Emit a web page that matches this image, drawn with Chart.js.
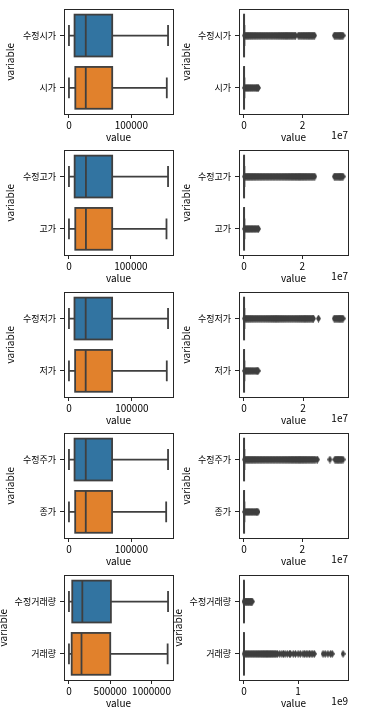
<!DOCTYPE html>
<html>
<head>
<meta charset="utf-8">
<script src="https://cdn.jsdelivr.net/npm/chart.js@4.4.1/dist/chart.umd.min.js"></script>
<style>
  html, body { margin: 0; padding: 0; background: #fff; }
  body { width: 376px; height: 715px; position: relative; overflow: hidden; }
  canvas { position: absolute; }
</style>
</head>
<body>
<script>
// ---- data ----
const categories = [
  ['수정시가', '시가'],
  ['수정고가', '고가'],
  ['수정저가', '저가'],
  ['수정주가', '종가'],
  ['수정거래량', '거래량']
];

// box stats per row: [adjusted, raw]
const whiskerLow   = [[0, 0], [0, 0], [0, 0], [0, 0], [0, 0]];
const q1Values     = [[9000, 10200], [9200, 10200], [8800, 9800], [9000, 10000], [40000, 33000]];
const medianValues = [[27000, 27000], [27400, 27400], [26600, 26600], [27000, 27000], [162000, 152000]];
const q3Values     = [[69400, 69400], [69800, 69800], [68600, 68600], [69200, 69200], [508000, 500000]];
const whiskerHigh  = [[159000, 157000], [160000, 157500], [157500, 155500], [159000, 156000], [1200000, 1195000]];

// outliers (fliers) - the dense runs are what the picture shows as solid bands
const outAdjOpen = [0.16e6, 0.5e6, 0.85e6, 1.2e6, 1.55e6, 1.9e6, 2.25e6, 2.6e6, 2.95e6, 3.3e6, 3.65e6, 4.0e6,
  4.35e6, 4.7e6, 5.05e6, 5.4e6, 5.75e6, 6.1e6, 6.45e6, 6.8e6, 7.15e6, 7.5e6, 7.85e6, 8.2e6, 8.55e6, 8.9e6,
  9.25e6, 9.6e6, 9.95e6, 10.3e6, 10.65e6, 11.0e6, 11.35e6, 11.7e6, 12.05e6, 12.4e6, 12.75e6, 13.1e6, 13.45e6,
  13.8e6, 14.15e6, 14.5e6, 14.85e6, 15.2e6, 15.55e6, 15.9e6, 16.25e6, 16.6e6, 16.95e6, 17.3e6, 17.6e6, 18.5e6,
  18.85e6, 19.2e6, 19.55e6, 19.9e6, 20.25e6, 20.6e6, 20.95e6, 21.3e6, 21.65e6, 22.0e6, 22.35e6, 22.7e6,
  23.05e6, 23.4e6, 23.75e6, 24.1e6, 30.8e6, 31.1e6, 31.4e6, 31.7e6, 32.0e6, 32.3e6, 32.6e6, 32.9e6, 33.2e6,
  33.5e6, 33.8e6];
const outOpen = [0.16e6, 0.5e6, 0.85e6, 1.2e6, 1.55e6, 1.9e6, 2.25e6, 2.6e6, 2.95e6, 3.3e6, 3.65e6, 4.0e6,
  4.3e6, 4.6e6, 4.95e6];
const outAdjHigh = [0.16e6, 0.5e6, 0.85e6, 1.2e6, 1.55e6, 1.9e6, 2.25e6, 2.6e6, 2.95e6, 3.3e6, 3.65e6, 4.0e6,
  4.35e6, 4.7e6, 5.05e6, 5.4e6, 5.75e6, 6.1e6, 6.45e6, 6.8e6, 7.15e6, 7.5e6, 7.85e6, 8.2e6, 8.55e6, 8.9e6,
  9.25e6, 9.6e6, 9.95e6, 10.3e6, 10.65e6, 11.0e6, 11.35e6, 11.7e6, 12.05e6, 12.4e6, 12.75e6, 13.1e6, 13.45e6,
  13.8e6, 14.15e6, 14.5e6, 14.85e6, 15.2e6, 15.55e6, 15.9e6, 16.25e6, 16.6e6, 16.95e6, 17.3e6, 17.65e6, 18.0e6,
  18.35e6, 18.7e6, 19.05e6, 19.4e6, 19.75e6, 20.1e6, 20.45e6, 20.8e6, 21.15e6, 21.5e6, 21.85e6, 22.2e6,
  22.55e6, 22.9e6, 23.25e6, 23.6e6, 23.95e6, 24.3e6, 31.0e6, 31.3e6, 31.6e6, 31.9e6, 32.2e6, 32.5e6, 32.8e6,
  33.1e6, 33.4e6, 33.7e6, 34.0e6];
const outHigh = [0.16e6, 0.5e6, 0.85e6, 1.2e6, 1.55e6, 1.9e6, 2.25e6, 2.6e6, 2.95e6, 3.3e6, 3.65e6, 4.0e6,
  4.35e6, 4.7e6, 5.0e6];
const outAdjLow = [0.16e6, 0.5e6, 0.85e6, 1.2e6, 1.55e6, 1.9e6, 2.25e6, 2.6e6, 2.95e6, 3.3e6, 3.65e6, 4.0e6,
  4.35e6, 4.7e6, 5.05e6, 5.4e6, 5.75e6, 6.1e6, 6.45e6, 6.8e6, 7.15e6, 7.5e6, 7.85e6, 8.2e6, 8.55e6, 8.9e6,
  9.25e6, 9.6e6, 9.95e6, 10.3e6, 10.65e6, 11.0e6, 11.35e6, 11.7e6, 12.05e6, 12.4e6, 12.75e6, 13.1e6, 13.45e6,
  13.8e6, 14.15e6, 14.5e6, 14.85e6, 15.2e6, 15.55e6, 15.9e6, 16.25e6, 16.6e6, 16.95e6, 17.3e6, 17.65e6, 18.0e6,
  18.35e6, 18.7e6, 19.05e6, 19.4e6, 19.75e6, 20.1e6, 20.45e6, 20.8e6, 21.15e6, 21.5e6, 21.85e6, 22.2e6,
  22.55e6, 22.9e6, 23.2e6, 23.5e6, 25.2e6, 30.5e6, 30.8e6, 31.1e6, 31.4e6, 31.7e6, 32.0e6, 32.3e6, 32.6e6,
  32.9e6, 33.2e6, 33.5e6];
const outLow = [0.16e6, 0.5e6, 0.85e6, 1.2e6, 1.55e6, 1.9e6, 2.25e6, 2.6e6, 2.95e6, 3.3e6, 3.65e6, 4.0e6,
  4.3e6, 4.55e6, 4.8e6];
const outAdjClose = [0.16e6, 0.5e6, 0.85e6, 1.2e6, 1.55e6, 1.9e6, 2.25e6, 2.6e6, 2.95e6, 3.3e6, 3.65e6, 4.0e6,
  4.35e6, 4.7e6, 5.05e6, 5.4e6, 5.75e6, 6.1e6, 6.45e6, 6.8e6, 7.15e6, 7.5e6, 7.85e6, 8.2e6, 8.55e6, 8.9e6,
  9.25e6, 9.6e6, 9.95e6, 10.3e6, 10.65e6, 11.0e6, 11.35e6, 11.7e6, 12.05e6, 12.4e6, 12.75e6, 13.1e6, 13.45e6,
  13.8e6, 14.15e6, 14.5e6, 14.85e6, 15.2e6, 15.55e6, 15.9e6, 16.25e6, 16.6e6, 16.95e6, 17.3e6, 17.65e6, 18.0e6,
  18.35e6, 18.7e6, 19.05e6, 19.4e6, 19.75e6, 20.1e6, 20.45e6, 20.8e6, 21.15e6, 21.5e6, 21.85e6, 22.2e6,
  22.55e6, 22.9e6, 23.25e6, 23.6e6, 23.95e6, 24.3e6, 24.7e6, 25.2e6, 29.5e6, 31.2e6, 31.5e6, 31.8e6, 32.1e6,
  32.4e6, 32.7e6, 33.0e6, 33.3e6, 33.6e6, 34.0e6];
const outClose = [0.16e6, 0.5e6, 0.85e6, 1.2e6, 1.55e6, 1.9e6, 2.25e6, 2.6e6, 2.95e6, 3.3e6, 3.65e6, 4.0e6,
  4.3e6, 4.55e6, 4.8e6];
const outAdjVolume = [1.3e6, 1.3e7, 2.5e7, 3.7e7, 4.9e7, 6.1e7, 7.3e7, 8.5e7, 9.7e7, 1.09e8, 1.21e8, 1.33e8,
  1.43e8, 1.52e8];
const outVolume = [1.3e6, 2.0e7, 3.8e7, 5.6e7, 7.4e7, 9.2e7, 1.1e8, 1.28e8, 1.46e8, 1.64e8, 1.82e8, 2.0e8,
  2.18e8, 2.36e8, 2.54e8, 2.72e8, 2.9e8, 3.08e8, 3.26e8, 3.44e8, 3.62e8, 3.8e8, 3.98e8, 4.16e8, 4.34e8, 4.52e8,
  4.7e8, 4.88e8, 5.06e8, 5.24e8, 5.42e8, 5.6e8, 5.78e8, 5.96e8, 6.2e8, 6.6e8, 7.0e8, 7.3e8, 7.6e8, 8.0e8,
  8.4e8, 8.6e8, 9.1e8, 9.5e8, 1.0e9, 1.04e9, 1.09e9, 1.12e9, 1.15e9, 1.18e9, 1.21e9, 1.24e9, 1.27e9, 1.3e9,
  1.46e9, 1.5e9, 1.55e9, 1.6e9, 1.63e9, 1.83e9];

const outliers = [
  [outAdjOpen, outOpen],
  [outAdjHigh, outHigh],
  [outAdjLow, outLow],
  [outAdjClose, outClose],
  [outAdjVolume, outVolume]
];

// tick labels
const leftTicks = [[0, 100000], [0, 100000], [0, 100000], [0, 100000], [0, 500000, 1000000]];
const rightTicks = [[0, 2e7], [0, 2e7], [0, 2e7], [0, 2e7], [0, 1e9]];
const rightTickUnit = [1e7, 1e7, 1e7, 1e7, 1e9];
const rightOffsetText = ['1e7', '1e7', '1e7', '1e7', '1e9'];

// ---- styling ----
const boxColors = ['#3274a1', '#e1812c'];
const lineGray = '#3f3f3f';
const textColor = '#000';
const fontFamily = "'Noto Sans CJK KR', 'Noto Sans', sans-serif";

Chart.defaults.font.family = fontFamily;
Chart.defaults.color = textColor;

// thin diamond marker like matplotlib 'd'
const diamond = document.createElement('canvas');
diamond.width = 5;
diamond.height = 8;
(function () {
  const c = diamond.getContext('2d');
  c.fillStyle = lineGray;
  c.beginPath();
  c.moveTo(2.5, 0);
  c.lineTo(5, 4);
  c.lineTo(2.5, 8);
  c.lineTo(0, 4);
  c.closePath();
  c.fill();
})();

// draws box outline, whiskers, caps and median through the chart scales
const boxPlugin = {
  id: 'boxStats',
  afterDatasetsDraw(chart, args, opts) {
    if (!opts.stats) return;
    const { ctx } = chart;
    const x = chart.scales.x, y = chart.scales.y;
    const band = y.getPixelForValue(1) - y.getPixelForValue(0);
    const half = band * 0.4;
    const capHalf = band * 0.2;
    ctx.save();
    ctx.strokeStyle = lineGray;
    ctx.lineWidth = 1.8;
    opts.stats.forEach((s, i) => {
      const yc = y.getPixelForValue(i);
      const xl = x.getPixelForValue(s.lo);
      const x1 = x.getPixelForValue(s.q1);
      const xm = x.getPixelForValue(s.med);
      const x3 = x.getPixelForValue(s.q3);
      const xh = x.getPixelForValue(s.hi);
      ctx.beginPath();
      ctx.moveTo(xl, yc); ctx.lineTo(x1, yc);
      ctx.moveTo(x3, yc); ctx.lineTo(xh, yc);
      ctx.moveTo(xl, yc - capHalf); ctx.lineTo(xl, yc + capHalf);
      ctx.moveTo(xh, yc - capHalf); ctx.lineTo(xh, yc + capHalf);
      ctx.moveTo(xm, yc - half); ctx.lineTo(xm, yc + half);
      ctx.stroke();
      ctx.strokeRect(x1, yc - half, x3 - x1, half * 2);
    });
    ctx.restore();
  }
};

// axes frame + scientific offset text
const framePlugin = {
  id: 'frame',
  afterDraw(chart, args, opts) {
    const { ctx, chartArea: a } = chart;
    ctx.save();
    ctx.strokeStyle = '#262626';
    ctx.lineWidth = 1;
    const l = Math.round(a.left) + 0.5, t = Math.round(a.top) + 0.5;
    ctx.strokeRect(l, t, Math.round(a.right) - Math.round(a.left), Math.round(a.bottom) - Math.round(a.top));
    if (opts.offsetText) {
      ctx.fillStyle = textColor;
      ctx.font = '10px ' + fontFamily;
      ctx.textAlign = 'right';
      ctx.textBaseline = 'middle';
      ctx.fillText(opts.offsetText, a.right, a.bottom + 21);
    }
    ctx.restore();
  }
};

Chart.register(boxPlugin, framePlugin);

const rowPitch = 141.4;

function makePanel(row, col) {
  const labels = categories[row];
  const stats = labels.map((_, i) => ({
    lo: whiskerLow[row][i], q1: q1Values[row][i], med: medianValues[row][i],
    q3: q3Values[row][i], hi: whiskerHigh[row][i]
  }));
  const fliers = col === 1 ? outliers[row] : [[], []];

  // matplotlib-style 5% margins around the drawn data
  const allVals = [];
  stats.forEach(s => allVals.push(s.lo, s.hi));
  fliers.forEach(f => allVals.push(...f));
  const lo = Math.min(...allVals), hi = Math.max(...allVals);
  const pad = (hi - lo) * 0.05;

  const ticks = col === 0 ? leftTicks[row] : rightTicks[row];
  const unit = col === 0 ? 1 : rightTickUnit[row];

  const canvas = document.createElement('canvas');
  const cLeft = col === 0 ? -10 : 170;
  const cWidth = col === 0 ? 195 : 206;
  const axisWidth = col === 0 ? 74 : 69;
  const rightPad = col === 0 ? 12 : 28;
  const titlePad = col === 0 ? (row === 4 ? 7 : 14) : (row === 4 ? 2 : 10);
  canvas.width = cWidth;
  canvas.height = 150;
  canvas.style.left = cLeft + 'px';
  canvas.style.top = Math.round(row * rowPitch) + 'px';
  canvas.style.width = cWidth + 'px';
  canvas.style.height = '150px';
  document.body.appendChild(canvas);

  const flierData = [];
  fliers.forEach((f, i) => f.forEach(v => flierData.push({ x: v, y: labels[i] })));

  new Chart(canvas, {
    type: 'bar',
    data: {
      labels,
      datasets: [
        {
          data: stats.map(s => [s.q1, s.q3]),
          backgroundColor: boxColors,
          borderWidth: 0,
          barPercentage: 0.8,
          categoryPercentage: 1.0,
          order: 2
        },
        {
          type: 'scatter',
          data: flierData,
          pointStyle: diamond,
          pointRadius: 3,
          order: 1
        }
      ]
    },
    options: {
      indexAxis: 'y',
      responsive: false,
      animation: false,
      devicePixelRatio: 1,
      layout: { padding: { top: 4, right: rightPad, bottom: 0, left: 0 } },
      plugins: {
        legend: { display: false },
        tooltip: { enabled: false },
        boxStats: { stats },
        frame: { offsetText: col === 1 ? rightOffsetText[row] : '' }
      },
      scales: {
        x: {
          type: 'linear',
          min: lo - pad,
          max: hi + pad,
          afterBuildTicks: s => { s.ticks = ticks.map(v => ({ value: v })); },
          afterFit: s => { s.height = 36; },
          ticks: {
            autoSkip: false,
            maxRotation: 0,
            padding: 1,
            font: { size: 10 },
            color: textColor,
            callback: v => String(v / unit)
          },
          grid: { drawOnChartArea: false, drawTicks: true, tickLength: 4, color: '#262626' },
          border: { display: false },
          title: { display: true, text: 'value', font: { size: 10 }, color: textColor, padding: { top: 0, bottom: 7 } }
        },
        y: {
          type: 'category',
          offset: true,
          afterFit: s => { s.width = axisWidth; },
          ticks: { padding: 4, font: { size: 9 }, color: textColor },
          grid: { offset: false, drawOnChartArea: false, drawTicks: true, tickLength: 4, color: '#262626' },
          border: { display: false },
          title: { display: true, text: 'variable', font: { size: 10 }, color: textColor, padding: { top: titlePad, bottom: 0 } }
        }
      }
    }
  });
}

for (let r = 0; r < 5; r++) {
  makePanel(r, 0);
  makePanel(r, 1);
}
</script>
</body>
</html>
